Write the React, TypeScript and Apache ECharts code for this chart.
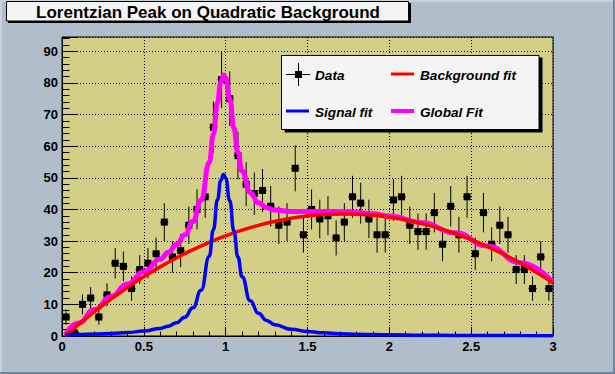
import React, { useEffect, useRef } from "react";
import * as echarts from "echarts";

// Histogram: 60 bins on [0, 3]
const binWidth = 0.05;
const counts = [6, 1, 10, 12, 6, 13, 23, 22, 15, 21, 23, 26, 36, 25, 27, 35, 40, 44, 66, 81, 75, 57, 48, 45, 46, 41, 35, 36, 53, 32, 40, 37, 38, 31, 36, 44, 42, 37, 32, 32, 43, 44, 35, 33, 33, 39, 29, 41, 32, 44, 26, 39, 29, 35, 32, 21, 21, 15, 25, 15];
const errors = [2.45, 1, 3.16, 3.46, 2.45, 3.61, 4.8, 4.69, 3.87, 4.58, 4.8, 5.1, 6, 5, 5.2, 5.92, 6.32, 6.63, 8.12, 9, 8.66, 7.55, 6.93, 6.71, 6.78, 6.4, 5.92, 6, 7.28, 5.66, 6.32, 6.08, 6.16, 5.57, 6, 6.63, 6.48, 6.08, 5.66, 5.66, 6.56, 6.63, 5.92, 5.74, 5.74, 6.24, 5.39, 6.4, 5.66, 6.63, 5.1, 6.24, 5.39, 5.92, 5.66, 4.58, 4.58, 3.87, 5, 3.87];

// Background fit curve (sampled)
const bgX = [0.02, 0.1, 0.2, 0.3, 0.4, 0.5, 0.6, 0.7, 0.8, 0.9, 1.0, 1.1, 1.2, 1.3, 1.4, 1.5, 1.6, 1.7, 1.8, 1.9, 2.0, 2.1, 2.2, 2.3, 2.4, 2.5, 2.6, 2.7, 2.8, 2.9, 3.0];
const bgY = [0.05, 3.59, 7.78, 11.69, 15.35, 18.73, 21.85, 24.7, 27.29, 29.61, 31.66, 33.45, 34.97, 36.22, 37.21, 37.93, 38.39, 38.57, 38.5, 38.15, 37.54, 36.66, 35.52, 34.11, 32.43, 30.49, 28.28, 25.81, 23.06, 20.06, 16.78];

// Signal and global fit curves (sampled)
const pkX = [0.02, 0.1, 0.2, 0.3, 0.4, 0.5, 0.6, 0.65, 0.7, 0.75, 0.8, 0.85, 0.9, 0.925, 0.95, 0.97, 0.987, 1.0, 1.025, 1.05, 1.075, 1.1, 1.15, 1.2, 1.25, 1.3, 1.4, 1.5, 1.6, 1.7, 1.8, 1.9, 2.0, 2.2, 2.4, 2.6, 2.8, 3.0];
const signalY = [0.4, 0.48, 0.6, 0.79, 1.07, 1.55, 2.4, 3.12, 4.21, 5.94, 8.92, 14.44, 25.24, 33.61, 43.1, 49.16, 51.08, 49.94, 42.74, 33.24, 24.95, 18.73, 11.12, 7.16, 4.93, 3.59, 2.12, 1.4, 0.99, 0.73, 0.57, 0.45, 0.37, 0.26, 0.19, 0.15, 0.12, 0.09];
const globalY = [0.45, 4.07, 8.38, 12.48, 16.42, 20.28, 24.25, 26.43, 28.91, 31.97, 36.21, 42.92, 54.85, 63.76, 73.77, 80.23, 82.49, 81.6, 74.87, 65.83, 57.98, 52.18, 45.36, 42.13, 40.56, 39.81, 39.33, 39.33, 39.38, 39.3, 39.07, 38.6, 37.91, 35.78, 32.62, 28.43, 23.18, 16.87];

const titleText = "Lorentzian Peak on Quadratic Background";
const legendLabels = ["Data", "Background fit", "Signal fit", "Global Fit"];

const FONT = "'Liberation Sans', Arial, Helvetica, sans-serif";

export default function App() {
  const ref = useRef<HTMLDivElement>(null);
  useEffect(() => {
    document.body.style.margin = "0";
    if (!ref.current) return;
    const chart = echarts.init(ref.current, undefined, { renderer: "svg" });

    const histData = counts.map((c, i) => [(i + 0.5) * binWidth, c, errors[i]]);
    const zip = (xs: number[], ys: number[]) => xs.map((x, i) => [x, ys[i]]);

    const legendFont = { fontFamily: FONT, fontSize: 13.6, fontWeight: "bold", fontStyle: "italic", fill: "#000" };

    const option: any = {
      animation: false,
      backgroundColor: "#afbeca",
      grid: {
        left: 62,
        right: 62,
        top: 37,
        bottom: 38,
        show: true,
        backgroundColor: "#d4cf87",
        borderColor: "#000",
        borderWidth: 1,
      },
      xAxis: {
        type: "value",
        min: 0,
        max: 3,
        interval: 0.5,
        axisLine: { show: true, onZero: false, lineStyle: { color: "#000", width: 1 } },
        axisTick: { show: true, inside: true, length: 9, lineStyle: { color: "#000" } },
        minorTick: { show: true, splitNumber: 5, length: 4.5, lineStyle: { color: "#000" } },
        splitLine: { show: true, lineStyle: { color: "#000", type: [1, 2], width: 1 } },
        axisLabel: { color: "#000", fontFamily: FONT, fontSize: 13, fontWeight: "bold", margin: 4 },
      },
      yAxis: {
        type: "value",
        min: 0,
        max: 94.5,
        interval: 10,
        axisLine: { show: true, onZero: false, lineStyle: { color: "#000", width: 1 } },
        axisTick: { show: true, inside: true, length: 15, lineStyle: { color: "#000" } },
        minorTick: { show: true, splitNumber: 5, length: 7.5, lineStyle: { color: "#000" } },
        splitLine: { show: true, lineStyle: { color: "#000", type: [1, 2], width: 1 } },
        axisLabel: {
          color: "#000",
          fontFamily: FONT,
          fontSize: 13,
          fontWeight: "bold",
          margin: 4,
          showMaxLabel: false,
          formatter: (v: number) => (Math.abs(v % 10) < 1e-6 ? String(v) : ""),
        },
      },
      series: [
        {
          type: "custom",
          name: "Data",
          clip: true,
          encode: { x: 0, y: 1 },
          data: histData,
          z: 2,
          renderItem: (params: any, api: any) => {
            const x = api.value(0);
            const y = api.value(1);
            const e = api.value(2);
            const c = api.coord([x, y]);
            const t = api.coord([x, y + e]);
            const b = api.coord([x, Math.max(0, y - e)]);
            const l = api.coord([x - binWidth / 2, y]);
            const r = api.coord([x + binWidth / 2, y]);
            return {
              type: "group",
              children: [
                { type: "line", shape: { x1: c[0], y1: t[1], x2: c[0], y2: b[1] }, style: { stroke: "#000", lineWidth: 1 } },
                { type: "line", shape: { x1: l[0], y1: c[1], x2: r[0], y2: c[1] }, style: { stroke: "#000", lineWidth: 1 } },
                { type: "rect", shape: { x: c[0] - 3.5, y: c[1] - 3.5, width: 7, height: 7 }, style: { fill: "#000" } },
              ],
            };
          },
        },
        {
          type: "line",
          name: "Global Fit",
          data: zip(pkX, globalY),
          showSymbol: false,
          smooth: 0.5,
          smoothMonotone: "x",
          lineStyle: { color: "#ff00ff", width: 5 },
          z: 3,
        },
        {
          type: "line",
          name: "Background fit",
          data: zip(bgX, bgY),
          showSymbol: false,
          smooth: 0.5,
          lineStyle: { color: "#ff0000", width: 3.5 },
          z: 4,
        },
        {
          type: "line",
          name: "Signal fit",
          data: zip(pkX, signalY),
          showSymbol: false,
          smooth: 0.5,
          smoothMonotone: "x",
          lineStyle: { color: "#0000ff", width: 3.5 },
          z: 5,
        },
      ],
      graphic: [
        // canvas bevels
        { type: "rect", shape: { x: 0, y: 0, width: 615, height: 2 }, style: { fill: "#c9d3dc" }, z: 100 },
        { type: "rect", shape: { x: 0, y: 0, width: 2, height: 374 }, style: { fill: "#c9d3dc" }, z: 100 },
        { type: "rect", shape: { x: 613, y: 0, width: 2, height: 374 }, style: { fill: "#71869a" }, z: 101 },
        { type: "rect", shape: { x: 0, y: 372, width: 615, height: 2 }, style: { fill: "#71869a" }, z: 101 },
        // title box
        { type: "rect", shape: { x: 8, y: 3, width: 403, height: 20 }, style: { fill: "#000" }, z: 102 },
        { type: "rect", shape: { x: 6.5, y: 1.5, width: 402, height: 19.5 }, style: { fill: "#f4f4f4", stroke: "#000", lineWidth: 1 }, z: 103 },
        {
          type: "text",
          x: 208,
          y: 12,
          z: 104,
          style: { text: titleText, fontFamily: FONT, fontSize: 17, fontWeight: "bold", fill: "#000", align: "center", verticalAlign: "middle" },
        },
        // legend box
        { type: "rect", shape: { x: 284.5, y: 57.5, width: 258, height: 75 }, style: { fill: "#000" }, z: 102 },
        { type: "rect", shape: { x: 281.5, y: 55.5, width: 257.5, height: 74 }, style: { fill: "#f4f4f4", stroke: "#000", lineWidth: 1 }, z: 103 },
        // Data marker
        { type: "line", shape: { x1: 286, y1: 74.5, x2: 310, y2: 74.5 }, style: { stroke: "#000", lineWidth: 1 }, z: 104 },
        { type: "line", shape: { x1: 298.5, y1: 63, x2: 298.5, y2: 86 }, style: { stroke: "#000", lineWidth: 1 }, z: 104 },
        { type: "rect", shape: { x: 295, y: 71, width: 7, height: 7 }, style: { fill: "#000" }, z: 104 },
        { type: "text", x: 315, y: 75, z: 104, style: { ...legendFont, text: legendLabels[0], verticalAlign: "middle" } },
        // Background fit
        { type: "line", shape: { x1: 391, y1: 74, x2: 414, y2: 74 }, style: { stroke: "#ff0000", lineWidth: 3 }, z: 104 },
        { type: "text", x: 420, y: 75, z: 104, style: { ...legendFont, text: legendLabels[1], verticalAlign: "middle" } },
        // Signal fit
        { type: "line", shape: { x1: 286, y1: 111, x2: 309, y2: 111 }, style: { stroke: "#0000ff", lineWidth: 3 }, z: 104 },
        { type: "text", x: 315, y: 112, z: 104, style: { ...legendFont, text: legendLabels[2], verticalAlign: "middle" } },
        // Global fit
        { type: "line", shape: { x1: 391, y1: 111, x2: 414, y2: 111 }, style: { stroke: "#ff00ff", lineWidth: 4 }, z: 104 },
        { type: "text", x: 420, y: 112, z: 104, style: { ...legendFont, text: legendLabels[3], verticalAlign: "middle" } },
      ],
    };
    chart.setOption(option);
    return () => chart.dispose();
  }, []);
  return <div ref={ref} style={{ width: 615, height: 374 }} />;
}
